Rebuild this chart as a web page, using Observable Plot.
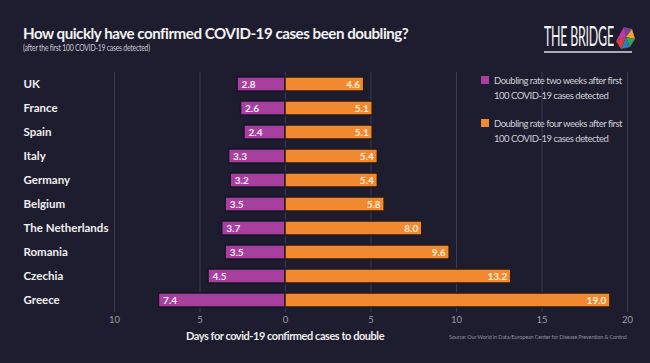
<!DOCTYPE html>
<html>
<head>
<meta charset="utf-8">
<script src="https://cdn.jsdelivr.net/npm/d3@7"></script>
<script src="https://cdn.jsdelivr.net/npm/@observablehq/plot@0.6"></script>
<style>
  html, body { margin: 0; padding: 0; background: #1e1d2f; }
  #wrap { position: relative; width: 650px; height: 363px; overflow: hidden; background: #1e1d2f;
          font-family: Lato, "Open Sans", sans-serif; }
  #title { position: absolute; left: 23px; top: 23px; color: #f2f2f2; font-size: 16px; font-weight: bold; white-space: nowrap; letter-spacing: -0.5px; transform: scaleX(0.945); transform-origin: left top; }
  #subtitle { position: absolute; left: 23px; top: 41px; color: #c8c8d0; font-size: 10px; white-space: nowrap; letter-spacing: -0.3px; transform: scaleX(0.68); transform-origin: left top; }
  #chart { position: absolute; left: 0; top: 62px; }
  #axistitle { position: absolute; left: 0; width: 570px; top: 329px; text-align: center; color: #ececec; font-size: 11px; font-weight: bold; white-space: nowrap; letter-spacing: -0.45px; }
  #source { position: absolute; right: 23px; top: 333px; color: #8c8c9c; font-size: 6.5px; white-space: nowrap; letter-spacing: -0.2px; transform: scaleX(0.86); transform-origin: right top; }
  #legend { position: absolute; left: 481px; top: 73px; color: #cfcfd6; font-size: 9.5px; line-height: 15px; white-space: nowrap; letter-spacing: -0.5px; }
  .item { position: relative; padding-left: 13px; margin-bottom: 13px; }
  .sw { position: absolute; left: 0; top: 3px; width: 8px; height: 8px; }
  #logo { position: absolute; left: 544px; top: 19px; width: 92px; height: 42px; }
  #logo .t { position: absolute; left: 0; top: 0; color: #f4f4f4; font-size: 27px; white-space: nowrap; transform: scaleX(0.46); transform-origin: left top; letter-spacing: -0.5px; }
  #logo .u { position: absolute; left: 0; top: 32px; width: 88px; height: 1.5px; background: #aaa; }
</style>
</head>
<body>
<div id="wrap">
  <div id="title">How quickly have confirmed COVID-19 cases been doubling?</div>
  <div id="subtitle">(after the first 100 COVID-19 cases detected)</div>
  <div id="logo">
    <div class="t">THE BRIDGE</div>
    <div class="u"></div>
    <svg style="position:absolute;left:68px;top:6px" width="24" height="26" viewBox="0 0 24 26">
      <polygon points="12,2 20,4 14,12" fill="#7a3da0"/>
      <polygon points="14,12 20,4 23,14" fill="#f0a52a"/>
      <polygon points="14,12 23,14 18,22" fill="#3aa04a"/>
      <polygon points="14,12 18,22 9,24" fill="#2a7fc0"/>
      <polygon points="14,12 9,24 4,16" fill="#e03a3a"/>
      <polygon points="14,12 4,16 12,2" fill="#c03aa0"/>
    </svg>
  </div>
  <div id="chart"></div>
  <div id="legend">
    <div class="item"><span class="sw" style="background:#a8409f"></span>Doubling rate two weeks after first<br>100 COVID-19 cases detected</div>
    <div class="item"><span class="sw" style="background:#f0892f"></span>Doubling rate four weeks after first<br>100 COVID-19 cases detected</div>
  </div>
  <div id="axistitle">Days for covid-19 confirmed cases to double</div>
  <div id="source">Source: Our World in Data/European Center for Disease Prevention &amp; Control</div>
</div>
<script>
const countries = ["UK", "France", "Spain", "Italy", "Germany", "Belgium", "The Netherlands", "Romania", "Czechia", "Greece"];
const twoWeeks  = [2.8, 2.6, 2.4, 3.3, 3.2, 3.5, 3.7, 3.5, 4.5, 7.4];
const fourWeeks = [4.6, 5.1, 5.1, 5.4, 5.4, 5.8, 8.0, 9.6, 13.2, 19.0];
const xTicks = [-10, -5, 0, 5, 10, 15, 20];

const purple = "#a8409f";
const orange = "#f0892f";

const data = countries.map((c, i) => ({country: c, two: twoWeeks[i], four: fourWeeks[i]}));

const chart = Plot.plot({
  width: 650,
  height: 301,
  marginLeft: 114,
  marginRight: 23,
  marginTop: 10,
  marginBottom: 51,
  style: {background: "transparent", fontFamily: "Lato, 'Open Sans', sans-serif"},
  x: {domain: [-10, 20], ticks: xTicks},
  y: {domain: countries, padding: 0.4, paddingOuter: 0.2, align: 0.5},
  marks: [
    Plot.gridX(xTicks, {stroke: "#3a394f", strokeOpacity: 1, strokeWidth: 1}),
    Plot.axisX(xTicks, {tickSize: 0, tickPadding: 4, tickFormat: d => Math.abs(d), fill: "#9a9aa8", fontSize: 9.5, label: null}),
    Plot.axisY({tickSize: 0, tickPadding: 0, textAnchor: "start", dx: -91, fill: "#f0f0f0", fontSize: 11.5, fontWeight: "bold", label: null, style: {letterSpacing: "-0.3px"}}),
    Plot.barX(data, {x1: d => -d.two, x2: 0, y: "country", fill: purple, stroke: "#1a1226", strokeWidth: 1.5}),
    Plot.barX(data, {x1: 0, x2: "four", y: "country", fill: orange, stroke: "#2a1a12", strokeWidth: 1.5}),
    Plot.text(data, {x: d => -d.two, y: "country", text: d => d.two.toFixed(1), textAnchor: "start", dx: 4, fill: "#f6eaf4", fontSize: 10, fontWeight: "bold"}),
    Plot.text(data, {x: "four", y: "country", text: d => d.four.toFixed(1), textAnchor: "end", dx: -4, fill: "#fbeede", fontSize: 10, fontWeight: "bold"})
  ]
});
document.getElementById("chart").appendChild(chart);
</script>
</body>
</html>
